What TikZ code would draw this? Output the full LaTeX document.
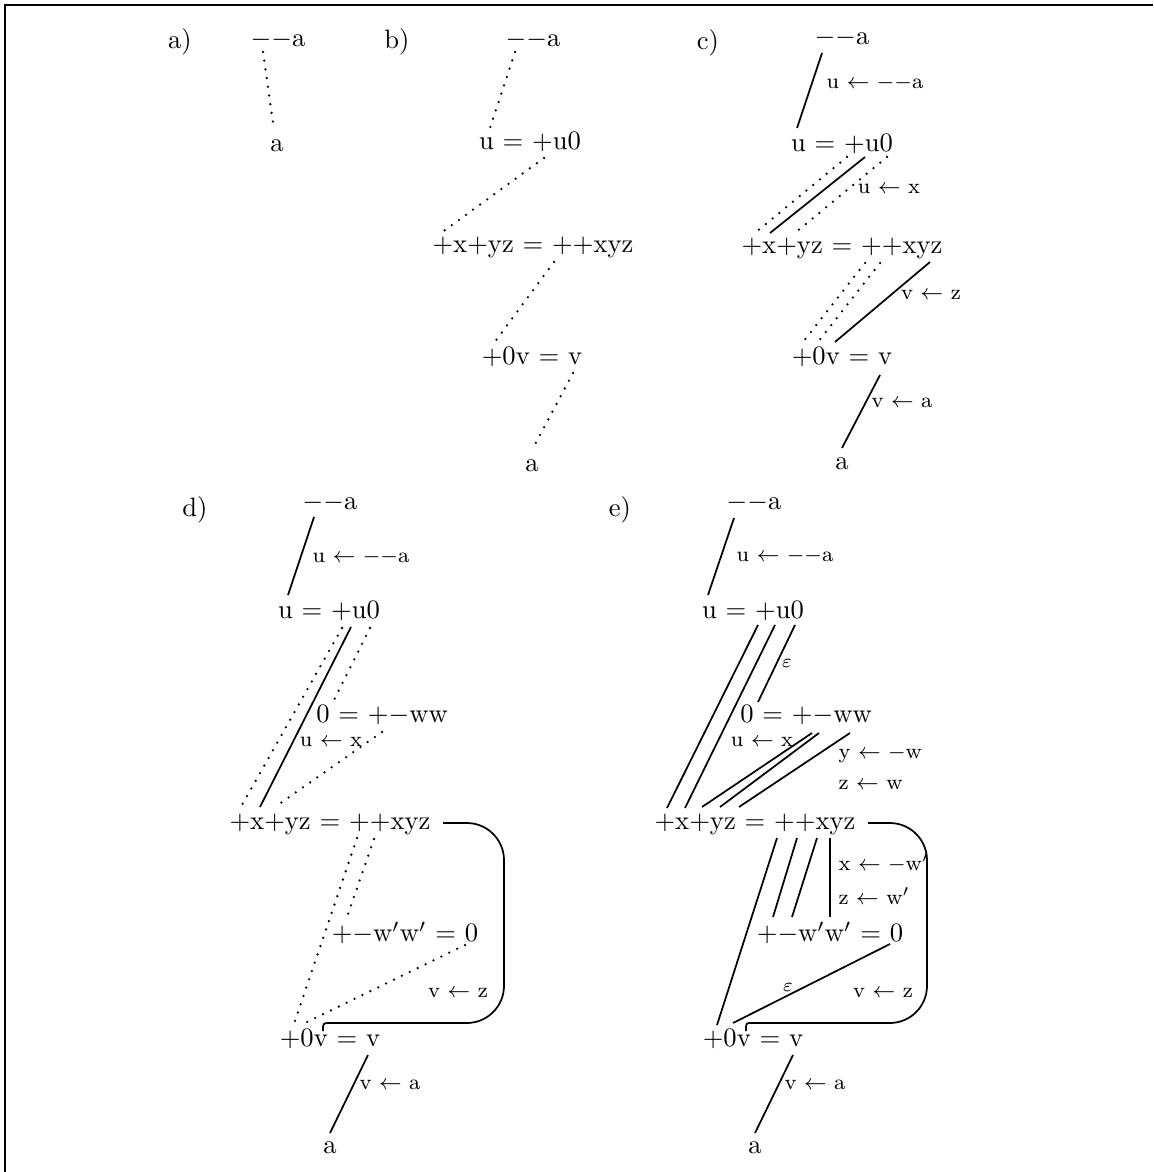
\documentclass[tikz,border=0pt]{standalone}
\usepackage{tikz}
\usetikzlibrary{calc}
\tikzset{
  term/.style  = {inner sep=1.5pt, text height=6.5pt, text depth=1.5pt},
  panel/.style = {inner sep=1pt},
  rule/.style  = {font=\footnotesize, inner sep=0pt},
  eps/.style   = {font=\scriptsize, inner sep=0pt},
  link/.style  = {line width=0.65pt},
  trace/.style = {line width=0.95pt, line cap=round, dash pattern=on 0pt off 3.3pt},
  frame/.style = {line width=0.8pt},
}
\begin{document}
\begin{tikzpicture}[x=0.376pt, y=-0.376pt]
  \useasboundingbox (0,0) rectangle (1153,1172);
  \draw[frame] (1153,5) -- (5,5) -- (5,1172);

  % a)
  \node[panel] at (180,42) (aL) {a)};
  \node[term] at (278,40) (aT) {$--$a};
  \node[term] at (277,145) (aB) {a};
  \draw[trace] ($(aT)+(-15,12)$) -- ($(aB)+(-3,-15)$);

  % b)
  \node[panel] at (397,42) (bL) {b)};
  \node[term] at (533,40) (bT) {$--$a};
  \node[term] at (530,143) (bU) {u $=$ $+$u0};
  \node[term] at (533,246) (bX) {$+$x$+$yz $=$ $++$xyz};
  \node[term] at (532,358) (bV) {$+$0v $=$ v};
  \node[term] at (532,465) (bB) {a};
  \draw[trace] ($(bT)+(-18,12)$) -- ($(bU)+(-40,-15)$);
  \draw[trace] ($(bU)+(14,15)$) -- ($(bX)+(-92,-13)$);
  \draw[trace] ($(bX)+(21,16)$) -- ($(bV)+(-38,-15)$);
  \draw[trace] ($(bV)+(41,15)$) -- ($(bB)+(0,-15)$);

  % c)
  \node[panel] at (708,43) (cL) {c)};
  \node[term] at (842,38) (cT) {$--$a};
  \node[term] at (842,145) (cU) {u $=$ $+$u0};
  \node[term] at (842,247) (cX) {$+$x$+$yz $=$ $++$xyz};
  \node[term] at (842,358) (cV) {$+$0v $=$ v};
  \node[term] at (842,463) (cB) {a};
  \draw[link] ($(cT)+(-20,15)$) -- ($(cU)+(-45,-17)$);
  \node[rule] at (875,83) (cR1) {u $\leftarrow$ $--$a};
  \draw[link] ($(cU)+(23,12)$) -- ($(cX)+(-72,-14)$);
  \draw[trace] ($(cU)+(5,12)$) -- ($(cX)+(-87,-14)$);
  \draw[trace] ($(cU)+(45,12)$) -- ($(cX)+(-47,-14)$);
  \node[rule] at (889,189) (cR2) {u $\leftarrow$ x};
  \draw[link] ($(cX)+(88,15)$) -- ($(cV)+(-7,-16)$);
  \draw[trace] ($(cX)+(23,16)$) -- ($(cV)+(-39,-16)$);
  \draw[trace] ($(cX)+(38,16)$) -- ($(cV)+(-24,-16)$);
  \node[rule] at (931,295) (cR3) {v $\leftarrow$ z};
  \draw[link] ($(cV)+(38,17)$) -- ($(cB)+(0,-15)$);
  \node[rule] at (902,403) (cR4) {v $\leftarrow$ a};

  % d)
  \node[panel] at (195,510) (dL) {d)};
  \node[term] at (330,503) (dT) {$--$a};
  \node[term] at (329,612) (dU) {u $=$ $+$u0};
  \node[term] at (382,716) (dW) {0 $=$ $+-$ww};
  \node[term] at (330,823) (dX) {$+$x$+$yz $=$ $++$xyz};
  \node[term] at (405,935) (dY) {$+-$w$'$w$'$ $=$ 0};
  \node[term] at (330,1040) (dV) {$+$0v $=$ v};
  \node[term] at (330,1147) (dB) {a};
  \draw[link] ($(dT)+(-16,14)$) -- ($(dU)+(-41,-17)$);
  \node[rule] at (361,557) (dR1) {u $\leftarrow$ $--$a};
  \draw[link] ($(dU)+(22,15)$) -- ($(dX)+(-70,-16)$);
  \draw[trace] ($(dU)+(13,16)$) -- ($(dX)+(-88,-18)$);
  \draw[trace] ($(dU)+(41,16)$) -- ($(dW)+(-50,-12)$);
  \node[rule] at (331,742) (dR2) {u $\leftarrow$ x};
  \draw[trace] ($(dW)+(0,16)$) -- ($(dX)+(-55,-16)$);
  \draw[link, rounded corners=14pt] ($(dX)+(113,0)$) -- ($(dX)+(174,0)$)
    -- ($(dV)+(174,-17)$) -- ($(dV)+(0,-17)$);
  \draw[link] ($(dV)+(0,-17)$) .. controls ($(dV)+(-7,-17)$) .. ($(dV)+(-7,-9)$);
  \node[rule] at (458,993) (dR3) {v $\leftarrow$ z};
  \draw[trace] ($(dX)+(27,15)$) -- ($(dV)+(-37,-13)$);
  \draw[trace] ($(dX)+(44,16)$) -- ($(dY)+(-58,-18)$);
  \draw[trace] ($(dY)+(60,10)$) -- ($(dV)+(-25,-17)$);
  \draw[link] ($(dV)+(38,15)$) -- ($(dB)+(0,-14)$);
  \node[rule] at (390,1085) (dR4) {v $\leftarrow$ a};

  % e)
  \node[panel] at (620,510) (eL) {e)};
  \node[term] at (754,503) (eT) {$--$a};
  \node[term] at (753,612) (eU) {u $=$ $+$u0};
  \node[term] at (806,716) (eW) {0 $=$ $+-$ww};
  \node[term] at (755,823) (eX) {$+$x$+$yz $=$ $++$xyz};
  \node[term] at (830,935) (eY) {$+-$w$'$w$'$ $=$ 0};
  \node[term] at (753,1040) (eV) {$+$0v $=$ v};
  \node[term] at (755,1147) (eB) {a};
  \draw[link] ($(eT)+(-20,15)$) -- ($(eU)+(-45,-17)$);
  \node[rule] at (785,556) (eR1) {u $\leftarrow$ $--$a};
  \draw[link] ($(eU)+(5,13)$) -- ($(eX)+(-88,-15)$);
  \draw[link] ($(eU)+(22,13)$) -- ($(eX)+(-70,-15)$);
  \draw[link] ($(eU)+(42,13)$) -- ($(eW)+(-48,-14)$);
  \node[eps] at (787,663) (eE1) {$\varepsilon$};
  \node[rule] at (762,742) (eR2) {u $\leftarrow$ x};
  \draw[link] ($(eW)+(6,17)$) -- ($(eX)+(-53,-16)$);
  \draw[link] ($(eW)+(13,17)$) -- ($(eX)+(-35,-16)$);
  \draw[link] ($(eW)+(44,17)$) -- ($(eX)+(-16,-16)$);
  \node[rule, anchor=west] at (838,754) (eR3) {y $\leftarrow$ $-$w};
  \node[rule, anchor=west] at (838,785) (eR4) {z $\leftarrow$ w};
  \draw[link, rounded corners=14pt] ($(eX)+(113,0)$) -- ($(eX)+(172,0)$)
    -- ($(eV)+(174,-17)$) -- ($(eV)+(-2,-17)$);
  \draw[link] ($(eV)+(-2,-17)$) .. controls ($(eV)+(-7,-17)$) .. ($(eV)+(-7,-9)$);
  \draw[link] ($(eX)+(22,15)$) -- ($(eV)+(-36,-15)$);
  \draw[link] ($(eX)+(42,15)$) -- ($(eY)+(-57,-18)$);
  \draw[link] ($(eX)+(62,15)$) -- ($(eY)+(-38,-18)$);
  \draw[link] ($(eX)+(75,15)$) -- ($(eY)+(0,-18)$);
  \node[rule, anchor=west] at (838,863) (eR5) {x $\leftarrow$ $-$w$'$};
  \node[rule, anchor=west] at (838,896) (eR6) {z $\leftarrow$ w$'$};
  \draw[link] ($(eY)+(60,9)$) -- ($(eV)+(-20,-17)$);
  \node[eps] at (788,987) (eE2) {$\varepsilon$};
  \node[rule] at (883,993) (eR7) {v $\leftarrow$ z};
  \draw[link] ($(eV)+(40,15)$) -- ($(eB)+(0,-14)$);
  \node[rule] at (815,1085) (eR8) {v $\leftarrow$ a};
\end{tikzpicture}
\end{document}
